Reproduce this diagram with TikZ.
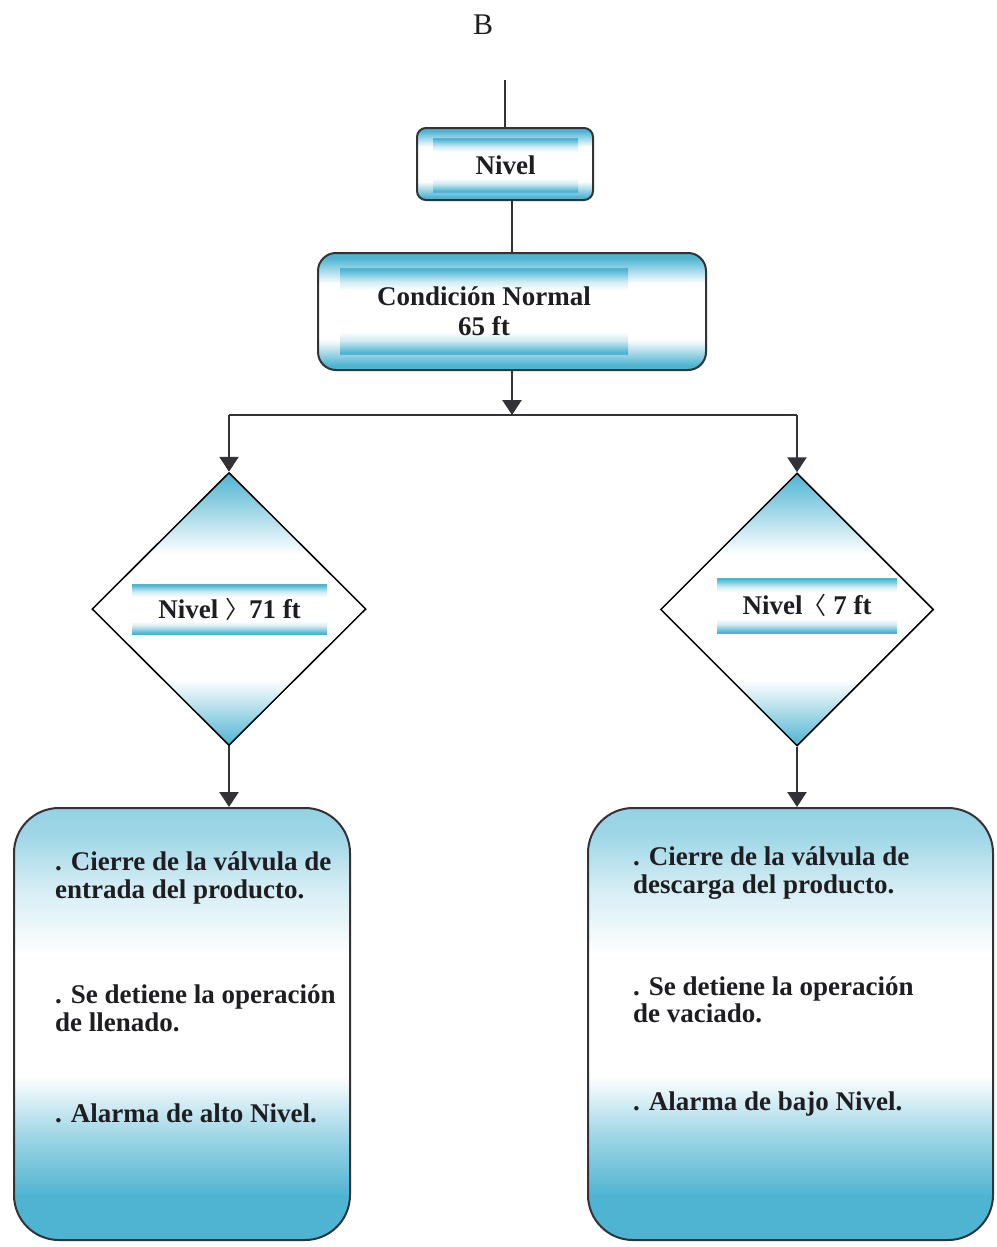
\documentclass[tikz,border=0pt]{standalone}
\usepackage{fontspec}
\setmainfont{Liberation Serif}
\newfontfamily\cjkbracket{Noto Sans CJK SC}
\usetikzlibrary{shapes.geometric,arrows.meta}

\definecolor{cyanfill}{RGB}{78,180,210}
\colorlet{cyanmid}{cyanfill!55!white}
\colorlet{cyanlite}{cyanfill!25!white}
\definecolor{inkline}{RGB}{50,50,55}
\definecolor{inktext}{RGB}{30,30,34}

% vertical fades: cyan at the edges, white in the middle
\pgfdeclareverticalshading{boxfade}{100bp}{color(0bp)=(cyanfill); color(27bp)=(cyanfill); color(38bp)=(white); color(62bp)=(white); color(73bp)=(cyanfill); color(100bp)=(cyanfill)}
\pgfdeclareverticalshading{bandfade}{100bp}{color(0bp)=(cyanfill); color(26bp)=(cyanfill); color(33bp)=(cyanlite); color(38bp)=(white); color(62bp)=(white); color(67bp)=(cyanlite); color(74bp)=(cyanfill); color(100bp)=(cyanfill)}
\pgfdeclareverticalshading{diamondfade}{100bp}{color(0bp)=(cyanfill); color(25bp)=(cyanfill); color(37bp)=(white); color(60bp)=(white); color(75bp)=(cyanfill); color(100bp)=(cyanfill)}
\pgfdeclareverticalshading{tankfade}{100bp}{color(0bp)=(cyanfill); color(30bp)=(cyanfill); color(37bp)=(cyanmid); color(44bp)=(white); color(58bp)=(white); color(66bp)=(cyanlite); color(72bp)=(cyanmid); color(100bp)=(cyanfill)}

\tikzset{
  flow/.style={draw=inkline, line width=2.6pt},
  flowarrow/.style={flow, -{Triangle[width=19pt,length=15pt]}},
  roundbox/.style={draw=inkline, line width=2pt, shade, shading=boxfade, inner sep=0pt},
  tankbox/.style={draw=inkline, line width=2pt, shade, shading=tankfade, rounded corners=45pt, inner sep=0pt},
  decision/.style={diamond, draw=black, line width=1.5pt, shade, shading=diamondfade, inner sep=0pt},
  band/.style={shade, shading=bandfade, inner sep=0pt, text=inktext,
    font=\bfseries\fontsize{27}{30}\selectfont},
  itemtext/.style={anchor=base west, inner sep=0pt, text=inktext,
    font=\bfseries\fontsize{27}{30}\selectfont},
}

\begin{document}
\begin{tikzpicture}[x=1pt,y=-1pt]
\useasboundingbox (0,0) rectangle (996,1247);

% heading
\node[font=\fontsize{30}{36}\selectfont, text=inktext] (title) at (483,25) {B};

% level box and normal condition
\node[roundbox, rounded corners=9pt, minimum width=176pt, minimum height=72pt] (nivel) at (505,164) {};
\node[band, minimum width=145pt, minimum height=54pt] (niveltxt) at (505.5,165) {Nivel};

\node[roundbox, rounded corners=18pt, minimum width=388pt, minimum height=117pt] (cond) at (512,311.5) {};
\node[band, align=center, minimum width=288pt, minimum height=86pt] (condtxt) at (484,311)
  {Condición Normal\\65 ft};

% decisions
\node[decision, minimum width=274pt, minimum height=273pt] (dleft) at (229,609) {};
\node[band, minimum width=195pt, minimum height=50pt] (dlefttxt) at (229.5,609)
  {Nivel {\cjkbracket\mdseries\fontsize{24}{30}\selectfont 〉}71 ft};

\node[decision, minimum width=273pt, minimum height=273pt] (dright) at (797,609.5) {};
\node[band, minimum width=180pt, minimum height=55pt] (drighttxt) at (807,605.5)
  {Nivel{\cjkbracket\mdseries\fontsize{24}{30}\selectfont 〈} 7 ft};

% action boxes
\node[tankbox, minimum width=336pt, minimum height=432pt] (tleft) at (182,1024) {};
\node[tankbox, minimum width=405pt, minimum height=432pt] (tright) at (790.5,1024) {};

\node[itemtext] (l1) at (55,870) {. Cierre de la válvula de};
\node[itemtext] (l2) at (55,898) {entrada del producto.};
\node[itemtext] (l3) at (55,1003) {. Se detiene la operación};
\node[itemtext] (l4) at (55,1031) {de llenado.};
\node[itemtext] (l5) at (55,1122) {. Alarma de alto Nivel.};

\node[itemtext] (r1) at (633,865) {. Cierre de la válvula de};
\node[itemtext] (r2) at (633,893) {descarga del producto.};
\node[itemtext] (r3) at (633,995) {. Se detiene la operación};
\node[itemtext] (r4) at (633,1022) {de vaciado.};
\node[itemtext] (r5) at (633,1110) {. Alarma de bajo Nivel.};

% connectors
\coordinate (entry) at (505,80);
\coordinate (split) at (512,415);
\coordinate (splitl) at (229,415);
\coordinate (splitr) at (797,415);

\draw[flow] (entry) -- (nivel.north);
\draw[flow] (cond.north |- nivel.south) -- (cond.north);
\draw[flowarrow] (cond.south) -- (split);
\draw[flow] (splitl) -- (splitr);
\draw[flowarrow] (splitl) -- (dleft.north);
\draw[flowarrow] (splitr) -- (dright.north);
\draw[flowarrow] (dleft.south) -- (dleft.south |- tleft.north);
\draw[flowarrow] (dright.south) -- (dright.south |- tright.north);
\end{tikzpicture}
\end{document}
